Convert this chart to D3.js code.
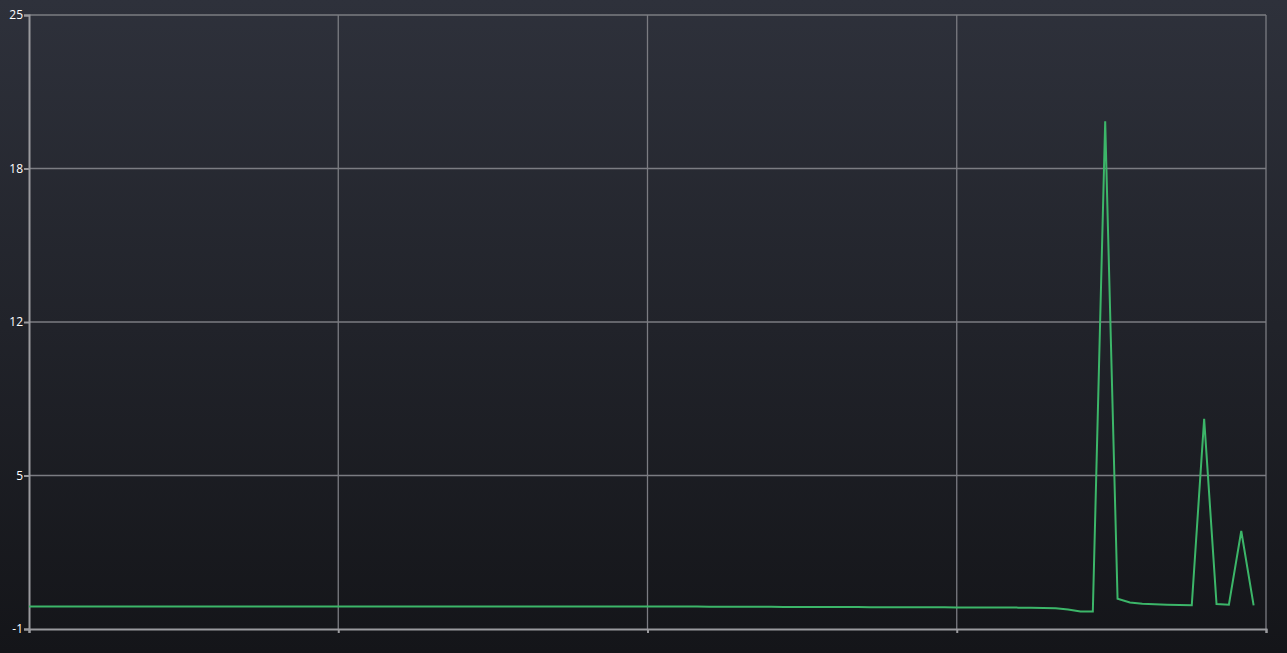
<!DOCTYPE html>
<html>
<head>
<meta charset="utf-8">
<script src="https://cdn.jsdelivr.net/npm/d3@7/dist/d3.min.js"></script>
<style>
  html, body { margin: 0; padding: 0; width: 1287px; height: 653px; overflow: hidden; }
  body { background: linear-gradient(to bottom, #2e313b 0%, #141519 100%); }
  svg { display: block; }
</style>
</head>
<body>
<svg id="chart" width="1287" height="653"></svg>
<script>
// ---- data ----
const xDomain = [0, 100];
const xTicks = [0, 25, 50, 75, 100];
const yTicks = [-1, 5.5, 12, 18.5, 25];
const yTickLabels = ["-1", "5", "12", "18", "25"];
const seriesValues = [
  -0.05, -0.05, -0.05, -0.05, -0.05, -0.05, -0.05, -0.05, -0.05, -0.05,
  -0.05, -0.05, -0.05, -0.05, -0.05, -0.05, -0.05, -0.05, -0.05, -0.05,
  -0.05, -0.05, -0.05, -0.05, -0.05, -0.05, -0.05, -0.05, -0.05, -0.05,
  -0.05, -0.05, -0.05, -0.05, -0.05, -0.05, -0.05, -0.05, -0.05, -0.05,
  -0.05, -0.05, -0.05, -0.05, -0.05, -0.05, -0.05, -0.05, -0.05, -0.05,
  -0.05, -0.05, -0.05, -0.05, -0.05, -0.055, -0.055, -0.06, -0.06, -0.06,
  -0.06, -0.065, -0.065, -0.065, -0.07, -0.07, -0.07, -0.07, -0.075, -0.075,
  -0.075, -0.08, -0.08, -0.08, -0.08, -0.085, -0.085, -0.09, -0.09, -0.09,
  -0.095, -0.1, -0.11, -0.12, -0.17, -0.26, -0.26, 20.5, 0.28, 0.12,
  0.07, 0.05, 0.03, 0.02, 0.01, 7.9, 0.06, 0.03, 3.15, 0.0
];

// ---- layout ----
const svg = d3.select("#chart");
const mLeft = 29, mRight = 1266, mTop = 15, mBottom = 629;

const x = d3.scaleLinear().domain(xDomain).range([mLeft, mRight]);
const y = d3.scaleLinear().domain([-1, 25]).range([mBottom, mTop]);

// grid
const grid = svg.append("g");
grid.selectAll("line.h").data(yTicks.slice(1)).enter().append("line")
  .attr("x1", mLeft).attr("x2", mRight)
  .attr("y1", d => y(d)).attr("y2", d => y(d))
  .attr("stroke", "#7b7c82").attr("stroke-width", 1.3);
grid.selectAll("line.v").data(xTicks.slice(1)).enter().append("line")
  .attr("x1", d => x(d)).attr("x2", d => x(d))
  .attr("y1", mTop).attr("y2", mBottom)
  .attr("stroke", "#7b7c82").attr("stroke-width", 1.3);

// axes
const yAxis = d3.axisLeft(y).tickValues(yTicks)
  .tickFormat((d, i) => yTickLabels[i]).tickSize(5).tickPadding(1);
const gy = svg.append("g").attr("transform", `translate(${mLeft},0)`).call(yAxis);
gy.select(".domain").attr("stroke", "#9a9a9e").attr("stroke-width", 2);
gy.selectAll(".tick line").attr("stroke", "#9a9a9e").attr("stroke-width", 2);
gy.selectAll(".tick text").attr("fill", "#ffffff")
  .style("font-family", "'Open Sans', 'DejaVu Sans', sans-serif").style("font-size", "12px");

const xAxis = d3.axisBottom(x).tickValues(xTicks).tickFormat("").tickSize(4);
const gx = svg.append("g").attr("transform", `translate(0,${mBottom})`).call(xAxis);
gx.select(".domain").attr("stroke", "#9a9a9e").attr("stroke-width", 2);
gx.selectAll(".tick line").attr("stroke", "#9a9a9e").attr("stroke-width", 2);

// line
const line = d3.line().x((d, i) => x(i)).y(d => y(d));
svg.append("path").datum(seriesValues)
  .attr("d", line)
  .attr("fill", "none")
  .attr("stroke", "#3cb669")
  .attr("stroke-width", 2)
  .attr("stroke-linejoin", "miter");
</script>
</body>
</html>
